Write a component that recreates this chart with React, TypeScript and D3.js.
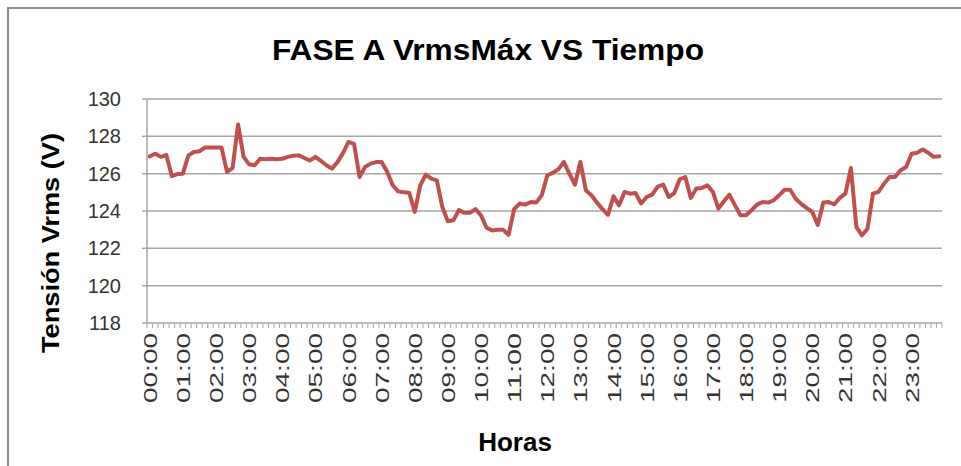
import React from "react";
import * as d3 from "d3";

const hourLabels = ["00:00","01:00","02:00","03:00","04:00","05:00","06:00","07:00","08:00","09:00","10:00","11:00","12:00","13:00","14:00","15:00","16:00","17:00","18:00","19:00","20:00","21:00","22:00","23:00"];
const minuteLabels = ["00","10","20","30","40","50"];
const categories: string[] = hourLabels.flatMap((h) => minuteLabels.map((m) => h.slice(0, 3) + m));

const vrmsMax = [
  126.93, 127.07, 126.9, 127.0, 125.87, 125.98, 126.0, 126.98, 127.16, 127.2, 127.4, 127.4, 127.4, 127.4, 126.09, 126.3, 128.63, 126.9, 126.5, 126.45, 126.8, 126.77, 126.8, 126.77,
  126.8, 126.9, 126.96, 126.98, 126.84, 126.7, 126.9, 126.68, 126.45, 126.27, 126.62, 127.1, 127.7, 127.6, 125.82, 126.36, 126.54, 126.62, 126.62, 126.1, 125.38, 125.05, 125.0, 124.98,
  123.95, 125.38, 125.95, 125.73, 125.64, 124.2, 123.45, 123.5, 124.05, 123.9, 123.9, 124.1, 123.77, 123.1, 122.96, 123.0, 123.0, 122.73, 124.1, 124.4, 124.34, 124.48, 124.45, 124.84,
  125.9, 126.05, 126.23, 126.63, 126.0, 125.41, 126.63, 125.1, 124.84, 124.45, 124.1, 123.8, 124.79, 124.3, 125.02, 124.93, 124.96, 124.4, 124.75, 124.88, 125.3, 125.41, 124.75, 124.96,
  125.7, 125.82, 124.7, 125.2, 125.23, 125.38, 125.02, 124.13, 124.52, 124.88, 124.3, 123.77, 123.77, 124.04, 124.34, 124.48, 124.45, 124.57, 124.84, 125.14, 125.14, 124.66, 124.38, 124.15,
  123.95, 123.25, 124.45, 124.48, 124.36, 124.7, 124.93, 126.3, 123.14, 122.7, 123.05, 124.93, 125.02, 125.46, 125.82, 125.82, 126.18, 126.36, 127.07, 127.12, 127.3, 127.12, 126.9, 126.93,
];

const yTicks = [118, 120, 122, 124, 126, 128, 130];

const W = 961;
const H = 466;
const plotLeft = 147;
const plotRight = 942;
const plotTop = 99;
const plotBottom = 323;

export default function App() {
  const x = d3.scaleBand<string>().domain(categories).range([plotLeft, plotRight]).paddingInner(0).paddingOuter(0);
  const y = d3.scaleLinear().domain([118, 130]).range([plotBottom, plotTop]);
  const cx = (c: string) => (x(c) as number) + x.bandwidth() / 2;
  const line = d3
    .line<number>()
    .x((_, i) => cx(categories[i]))
    .y((d) => y(d));

  const gridColor = "#a6a6a6";
  const font = "'Liberation Sans', Arial, sans-serif";

  return (
    <svg width={W} height={H} style={{ position: "absolute", left: 0, top: 0, background: "#fff" }} fontFamily={font}>
      <rect x={8} y={8} width={1000} height={600} fill="#fff" stroke="#8c8c8c" strokeWidth={2} />
      <text x={488} y={60} textAnchor="middle" fontSize={30} fontWeight="bold" fill="#000" textLength={432} lengthAdjust="spacingAndGlyphs">
        FASE A VrmsMáx VS Tiempo
      </text>
      {yTicks.map((t) => (
        <g key={t}>
          <line x1={plotLeft} x2={plotRight} y1={y(t)} y2={y(t)} stroke={gridColor} strokeWidth={1.5} />
          <line x1={plotLeft - 5} x2={plotLeft} y1={y(t)} y2={y(t)} stroke={gridColor} strokeWidth={1.5} />
          <text x={121} y={y(t) + 7} textAnchor="end" fontSize={20} fill="#333">
            {t}
          </text>
        </g>
      ))}
      <line x1={plotLeft} x2={plotLeft} y1={plotTop} y2={plotBottom} stroke={gridColor} strokeWidth={1.5} />
      {d3.range(categories.length + 1).map((k) => {
        const xx = plotLeft + k * x.step();
        return <line key={k} x1={xx} x2={xx} y1={plotBottom} y2={plotBottom + 5} stroke={gridColor} strokeWidth={1} />;
      })}
      {categories.map((c, i) =>
        i % 6 === 0 ? (
          <text
            key={c}
            transform={`translate(${cx(c) + 7},${333}) rotate(-90)`}
            textAnchor="end"
            fontSize={18}
            fill="#333"
            textLength={70}
            lengthAdjust="spacingAndGlyphs"
          >
            {c}
          </text>
        ) : null
      )}
      <path d={line(vrmsMax) || ""} fill="none" stroke="#C0504D" strokeWidth={4} strokeLinejoin="round" strokeLinecap="round" />
      <text transform={`translate(${59},${243}) rotate(-90)`} textAnchor="middle" fontSize={24} fontWeight="bold" fill="#000" textLength={220} lengthAdjust="spacingAndGlyphs">
        Tensión Vrms (V)
      </text>
      <text x={515} y={451} textAnchor="middle" fontSize={26} fontWeight="bold" fill="#000">
        Horas
      </text>
    </svg>
  );
}
